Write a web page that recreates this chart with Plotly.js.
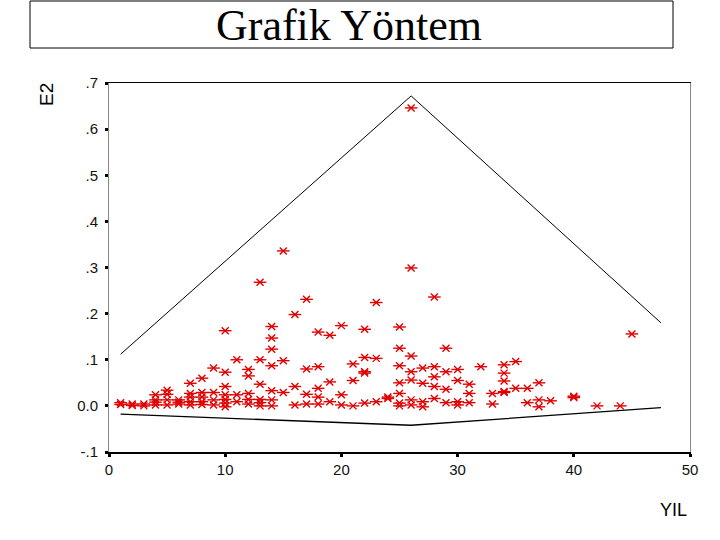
<!DOCTYPE html>
<html>
<head>
<meta charset="utf-8">
<script src="https://cdn.plot.ly/plotly-3.0.1.min.js"></script>
<style>html,body{margin:0;padding:0;background:#fff;}#chart{width:720px;height:540px;}</style>
</head>
<body>
<div id="chart"></div>
<script>
// ---- data ----
const yil = [
  1,1, 2,2, 3,3, 4,4,4,4, 5,5,5,5, 6,6,6, 7,7,7,7,7, 8,8,8,8,8, 9,9,9,9,
  10,10,10,10,10,10,10, 11,11,11, 12,12,12,12,12, 13,13,13,13,13,13,
  14,14,14,14,14,14,14, 15,15,15, 16,16,16, 17,17,17,17, 18,18,18,18,18,
  19,19,19, 20,20,20, 21,21,21, 22,22,22,22,22, 23,23,23, 24,24,
  25,25,25,25,25,25,25, 26,26,26,26,26,26,26, 27,27,27,27, 28,28,28,28,28,
  29,29,29,29, 30,30,30,30, 31,31,31, 32, 33,33, 34,34,34,34,34, 35,35,
  36,36, 37,37,37, 38, 40,40, 42, 44, 45
];
const e2 = [
  0.007,0.003, 0.004,0.001, 0.004,0.000, 0.024,0.013,0.002,0.008, 0.034,0.025,0.013,0.002,
  0.013,0.004,0.008, 0.049,0.027,0.019,0.009,0.002, 0.060,0.029,0.019,0.009,0.003,
  0.082,0.029,0.013,0.002,
  0.163,0.073,0.042,0.024,0.014,0.006,-0.002, 0.100,0.024,0.009, 0.079,0.065,0.027,0.014,0.004,
  0.268,0.100,0.047,0.014,0.007,0.000,
  0.172,0.147,0.123,0.087,0.033,0.013,0.000, 0.336,0.098,0.029, 0.198,0.042,0.002,
  0.231,0.080,0.025,0.004, 0.160,0.085,0.038,0.019,0.004,
  0.153,0.052,0.009, 0.174,0.024,0.002, 0.091,0.055,0.000, 0.166,0.105,0.074,0.071,0.006,
  0.224,0.103,0.009, 0.016,0.019,
  0.171,0.125,0.087,0.050,0.027,0.006,0.000, 0.646,0.299,0.108,0.074,0.056,0.013,0.002,
  0.082,0.049,0.009,-0.002, 0.236,0.085,0.063,0.042,0.016,
  0.125,0.074,0.036,0.007, 0.079,0.055,0.009,0.002, 0.047,0.027,0.007, 0.085, 0.027,0.004,
  0.089,0.071,0.054,0.029,0.031, 0.096,0.038, 0.038,0.007, 0.050,0.013,-0.002, 0.011,
  0.021,0.018, 0.000, 0.000, 0.156
];
// control limit lines
const limitX = [1, 26, 47.5];
const upperLimit = [0.112, 0.672, 0.180];
const lowerLimit = [-0.018, -0.042, -0.004];
// tick labels
const yTickVals = [-0.1, 0, 0.1, 0.2, 0.3, 0.4, 0.5, 0.6, 0.7];
const yTickText = ["-.1", "0.0", ".1", ".2", ".3", ".4", ".5", ".6", ".7"];
const xTickVals = [0, 10, 20, 30, 40, 50];
const titleText = "Grafik Yöntem";
const yTitle = "E2";
const xTitle = "YIL";

// ---- layout helpers (pixel -> paper) ----
const L = 109, R = 690, T = 83, B = 452;
const xp = px => (px - L) / (R - L);
const yp = py => (B - py) / (B - T);

const red = "rgb(225,0,0)";
const traces = [
  {x: limitX, y: upperLimit, mode: "lines", line: {color: "#000", width: 1}, hoverinfo: "skip"},
  {x: limitX, y: lowerLimit, mode: "lines", line: {color: "#000", width: 1.3}, hoverinfo: "skip"},
  {x: yil, y: e2, mode: "markers", marker: {symbol: "x-thin", size: 7, color: red, line: {color: red, width: 1.4}}},
  {x: yil, y: e2, mode: "markers", marker: {symbol: "line-ew", size: 9, color: red, line: {color: red, width: 1.4}}}
];

const tickFont = {family: "Liberation Sans, Arial, sans-serif", size: 15, color: "#111"};
const layout = {
  width: 720, height: 540,
  margin: {l: L, r: 720 - R, t: T, b: 540 - B, pad: 0},
  paper_bgcolor: "#fff", plot_bgcolor: "#fff",
  showlegend: false,
  xaxis: {
    range: [0, 50], tickvals: xTickVals, ticktext: xTickVals.map(String),
    showgrid: false, zeroline: false, showline: true, mirror: true,
    linecolor: "#000", linewidth: 1.5,
    ticks: "outside", ticklen: 3, tickwidth: 3, tickcolor: "#000",
    tickfont: tickFont
  },
  yaxis: {
    range: [-0.1, 0.7], tickvals: yTickVals, ticktext: yTickText,
    showgrid: false, zeroline: false, showline: true, mirror: true,
    linecolor: "#888", linewidth: 1,
    ticks: "outside", ticklen: 3, tickwidth: 3, tickcolor: "#000",
    ticklabelstandoff: 4,
    tickfont: tickFont
  },
  shapes: [
    {type: "rect", xref: "paper", yref: "paper", x0: xp(30), x1: xp(673), y0: yp(48), y1: yp(1),
     line: {color: "#000", width: 1}, fillcolor: "rgba(0,0,0,0)"}
  ],
  annotations: [
    {text: titleText, xref: "paper", yref: "paper", x: xp(349), y: yp(25), xanchor: "center", yanchor: "middle",
     showarrow: false, font: {family: "Liberation Serif, Times New Roman, serif", size: 44, color: "#000"}},
    {text: yTitle, xref: "paper", yref: "paper", x: xp(47), y: yp(95), xanchor: "center", yanchor: "middle",
     textangle: -90, showarrow: false, font: {family: "Liberation Sans, Arial, sans-serif", size: 19, color: "#000"}},
    {text: xTitle, xref: "paper", yref: "paper", x: xp(673), y: yp(510), xanchor: "center", yanchor: "middle",
     showarrow: false, font: {family: "Liberation Sans, Arial, sans-serif", size: 18, color: "#000"}}
  ]
};

Plotly.newPlot("chart", traces, layout, {displayModeBar: false, staticPlot: true});
</script>
</body>
</html>
